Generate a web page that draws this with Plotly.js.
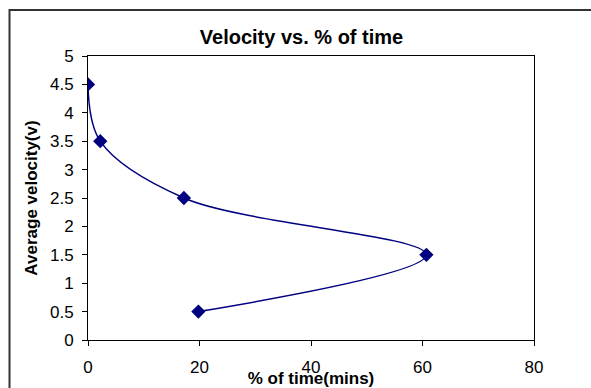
<!DOCTYPE html>
<html>
<head>
<meta charset="utf-8">
<script src="https://cdn.plot.ly/plotly-3.0.1.min.js"></script>
<style>
html,body{margin:0;padding:0;background:#fff;}
#chart{width:591px;height:388px;}
</style>
</head>
<body>
<div id="chart"></div>
<script>
const percentTime = [0, 2.2, 17.2, 60.7, 19.8];
const avgVelocity = [4.5, 3.5, 2.5, 1.5, 0.5];
const xTicks = [0, 20, 40, 60, 80];
const yTicks = [0, 0.5, 1, 1.5, 2, 2.5, 3, 3.5, 4, 4.5, 5];

const fontFam = 'Liberation Sans, Arial, sans-serif';

const trace = {
  x: percentTime,
  y: avgVelocity,
  type: 'scatter',
  mode: 'lines+markers',
  line: {shape: 'spline', smoothing: 1, color: '#000080', width: 1.5},
  marker: {symbol: 'diamond', size: 11, color: '#000080'},
  showlegend: false,
  hoverinfo: 'x+y'
};

const layout = {
  width: 591,
  height: 388,
  margin: {l: 88, r: 57, t: 56, b: 48},
  paper_bgcolor: '#fff',
  plot_bgcolor: '#fff',
  font: {family: fontFam, color: '#000', size: 17},
  title: {
    text: '<b>Velocity vs. % of time</b>',
    font: {family: fontFam, size: 20, color: '#000'},
    xref: 'container', x: 301.5 / 591, xanchor: 'center',
    yref: 'container', y: 1 - 37/388, yanchor: 'middle'
  },
  xaxis: {
    range: [0, 80],
    tickvals: xTicks,
    ticktext: xTicks.map(String),
    showgrid: false, zeroline: false,
    showline: true, mirror: true, linecolor: '#000', linewidth: 1,
    ticks: 'outside', ticklen: 5, tickcolor: '#000', tickwidth: 1,
    ticklabelstandoff: 7,
    tickfont: {family: fontFam, size: 17, color: '#000'},
    title: {text: '<b>% of time(mins)</b>', font: {family: fontFam, size: 17, color: '#000'}, standoff: 0},
    fixedrange: true
  },
  yaxis: {
    range: [0, 5],
    tickvals: yTicks,
    ticktext: yTicks.map(String),
    showgrid: false, zeroline: false,
    showline: true, mirror: true, linecolor: '#000', linewidth: 1,
    ticks: 'outside', ticklen: 5, tickcolor: '#000', tickwidth: 1,
    ticklabelstandoff: 5,
    tickfont: {family: fontFam, size: 17, color: '#000'},
    title: {text: '<b>Average velocity(v)</b>', font: {family: fontFam, size: 17, color: '#000'}, standoff: 8},
    fixedrange: true
  },
  shapes: [{
    type: 'rect', xref: 'paper', yref: 'paper',
    x0: (9.5 - 88) / 446, x1: (620 - 88) / 446,
    y0: (340 - 420) / 284, y1: (340 - 10) / 284,
    line: {color: '#333', width: 2}, fillcolor: 'rgba(0,0,0,0)', layer: 'below'
  }]
};

Plotly.newPlot('chart', [trace], layout, {displayModeBar: false, staticPlot: true});
</script>
</body>
</html>
